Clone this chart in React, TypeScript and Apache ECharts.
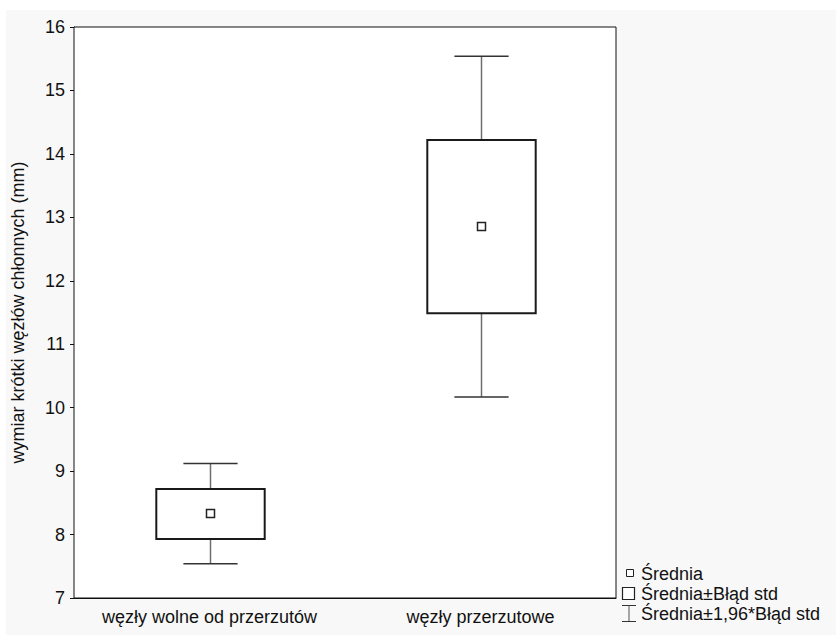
import React, { useEffect, useRef } from "react";
import * as echarts from "echarts";

// Groups on the category axis
const categories = ["węzły wolne od przerzutów", "węzły przerzutowe"];
// Mean short-axis size (mm)
const means = [8.33, 12.855];
// Mean ± standard error
const seLow = [7.93, 11.49];
const seHigh = [8.72, 14.22];
// Mean ± 1.96 * standard error
const ciLow = [7.54, 10.17];
const ciHigh = [9.12, 15.54];
// Value axis ticks
const yTicks = [7, 8, 9, 10, 11, 12, 13, 14, 15, 16];

const legendLabels = ["Średnia", "Średnia±Błąd std", "Średnia±1,96*Błąd std"];

const FONT = "'Liberation Sans', Arial, sans-serif";
const FS = 18;

export default function App() {
  const ref = useRef<HTMLDivElement>(null);

  useEffect(() => {
    if (!ref.current) return;
    const chart = echarts.init(ref.current, null, { renderer: "svg" });

    const data = categories.map((_, i) => [i, ciLow[i], seLow[i], means[i], seHigh[i], ciHigh[i]]);

    const renderItem = (params: any, api: any) => {
      const idx = api.value(0);
      const band = api.size([1, 0])[0];
      const boxW = band * 0.4;
      const capW = band * 0.2;
      const pLo = api.coord([idx, api.value(1)]);
      const pSeLo = api.coord([idx, api.value(2)]);
      const pMean = api.coord([idx, api.value(3)]);
      const pSeHi = api.coord([idx, api.value(4)]);
      const pHi = api.coord([idx, api.value(5)]);
      const cx = Math.round(pMean[0]) + 0.5;
      const whisker = { stroke: "#6e6e6e", lineWidth: 1.5 };
      const cap = { stroke: "#333", lineWidth: 1.5 };
      return {
        type: "group",
        children: [
          { type: "line", shape: { x1: cx, y1: pLo[1], x2: cx, y2: pSeLo[1] }, style: whisker },
          { type: "line", shape: { x1: cx, y1: pSeHi[1], x2: cx, y2: pHi[1] }, style: whisker },
          { type: "line", shape: { x1: cx - capW / 2, y1: pLo[1], x2: cx + capW / 2, y2: pLo[1] }, style: cap },
          { type: "line", shape: { x1: cx - capW / 2, y1: pHi[1], x2: cx + capW / 2, y2: pHi[1] }, style: cap },
          {
            type: "rect",
            shape: { x: cx - boxW / 2, y: pSeHi[1], width: boxW, height: pSeLo[1] - pSeHi[1] },
            style: { fill: "#fff", stroke: "#1a1a1a", lineWidth: 2 },
          },
          {
            type: "rect",
            shape: { x: cx - 4, y: pMean[1] - 4, width: 8, height: 8 },
            style: { fill: "#fff", stroke: "#222", lineWidth: 1.5 },
          },
        ],
      };
    };

    const legendText = (text: string, y: number) => ({
      type: "text",
      left: 641,
      top: y - 10,
      style: { text, font: `${FS}px ${FONT}`, fill: "#111" },
    });

    chart.setOption({
      animation: false,
      backgroundColor: "#fff",
      grid: {
        left: 74,
        right: 220,
        top: 27,
        bottom: 37,
        show: true,
        backgroundColor: "#fff",
        borderColor: "#111",
        borderWidth: 1,
        z: 1,
      },
      xAxis: {
        type: "category",
        data: categories,
        boundaryGap: true,
        axisLine: { lineStyle: { color: "#111", width: 1 } },
        axisTick: { alignWithLabel: true, inside: true, length: 4, lineStyle: { color: "#111" } },
        axisLabel: {
          interval: 0,
          hideOverlap: false,
          color: "#111",
          fontSize: FS,
          fontFamily: FONT,
          margin: 10,
        },
        splitLine: { show: false },
      },
      yAxis: {
        type: "value",
        min: yTicks[0],
        max: yTicks[yTicks.length - 1],
        interval: 1,
        name: "wymiar krótki węzłów chłonnych (mm)",
        nameLocation: "middle",
        nameGap: 47,
        nameTextStyle: { color: "#111", fontSize: FS, fontFamily: FONT },
        axisLine: { show: true, lineStyle: { color: "#111", width: 1 } },
        axisTick: { show: true, inside: false, length: 4, lineStyle: { color: "#111" } },
        axisLabel: { color: "#111", fontSize: FS, fontFamily: FONT, margin: 9 },
        splitLine: { show: true, lineStyle: { color: "#dcdcdc", width: 1 } },
      },
      graphic: [
        {
          type: "rect",
          z: -10,
          silent: true,
          shape: { x: 6, y: 10, width: 830, height: 625 },
          style: { fill: "#f8f8f8" },
        },
        {
          type: "rect",
          z: 100,
          shape: { x: 626.5, y: 569.5, width: 7, height: 7 },
          style: { fill: "#fff", stroke: "#222", lineWidth: 1 },
        },
        {
          type: "rect",
          z: 100,
          shape: { x: 622.5, y: 587.5, width: 12, height: 12 },
          style: { fill: "#fff", stroke: "#222", lineWidth: 1.2 },
        },
        {
          type: "polyline",
          z: 100,
          shape: { points: [[622, 605.5], [636, 605.5]] },
          style: { stroke: "#333", lineWidth: 1, fill: null },
        },
        {
          type: "polyline",
          z: 100,
          shape: { points: [[629, 605.5], [629, 621.5]] },
          style: { stroke: "#555", lineWidth: 1, fill: null },
        },
        {
          type: "polyline",
          z: 100,
          shape: { points: [[622, 621.5], [636, 621.5]] },
          style: { stroke: "#333", lineWidth: 1, fill: null },
        },
        legendText(legendLabels[0], 575),
        legendText(legendLabels[1], 595),
        legendText(legendLabels[2], 615),
      ],
      series: [
        {
          type: "custom",
          renderItem,
          data,
          encode: { x: 0, y: [1, 2, 3, 4, 5] },
          clip: false,
          z: 10,
        },
      ],
    });

    return () => chart.dispose();
  }, []);

  return (
    <div
      ref={ref}
      style={{ position: "fixed", left: 0, top: 0, width: 836, height: 635 }}
    />
  );
}
